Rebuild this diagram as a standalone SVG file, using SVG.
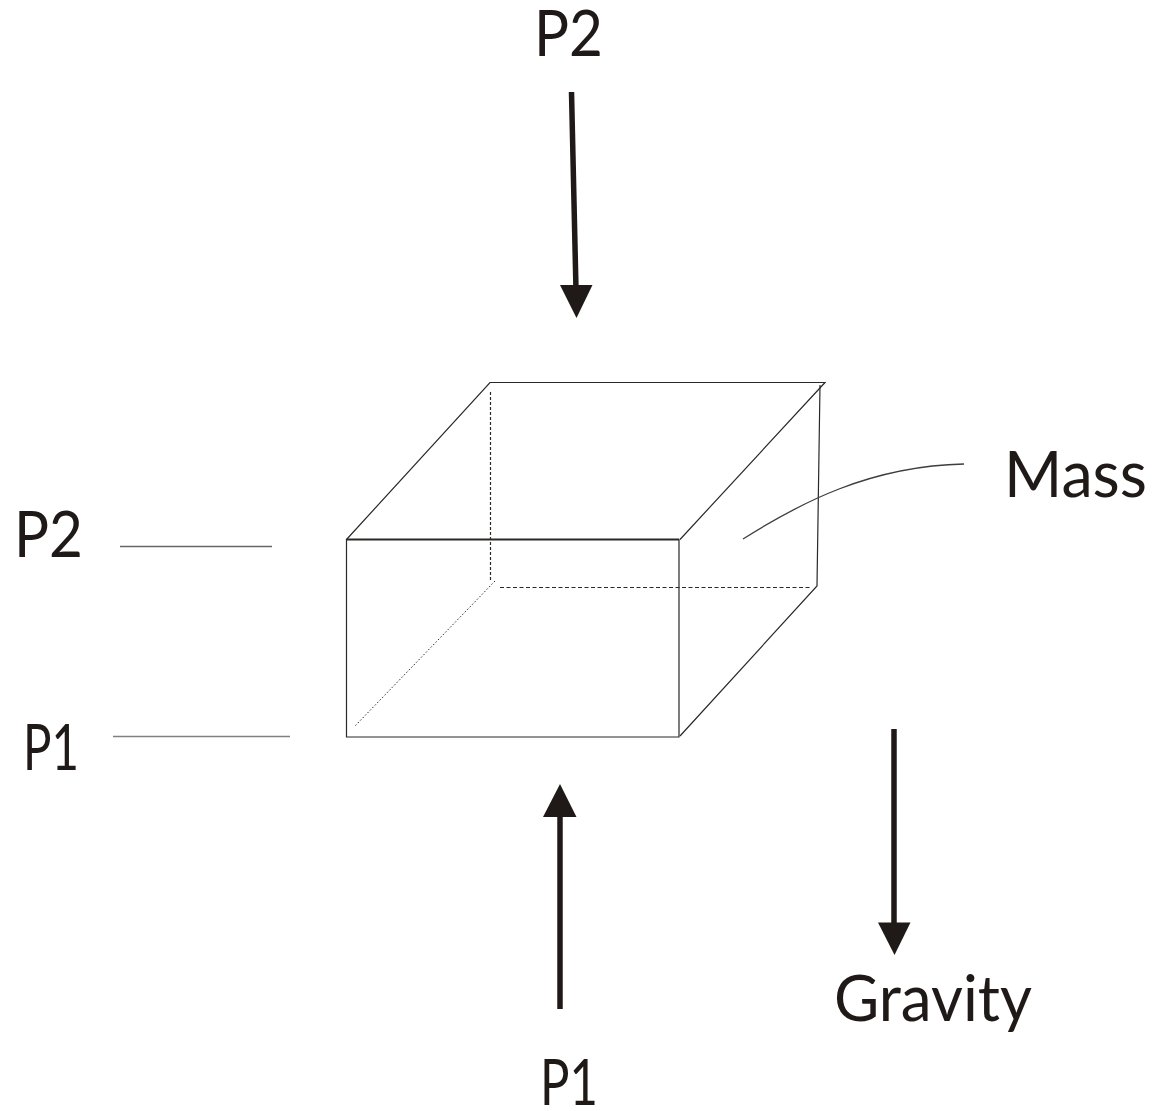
<svg xmlns="http://www.w3.org/2000/svg" width="1155" height="1111" viewBox="0 0 1155 1111">
<style>
.t{font-family:"Lato","Liberation Sans",sans-serif;font-weight:400;font-size:64px;fill:#1f1a17}
.e{fill:none;stroke:#2b2826;stroke-width:1.2}
.l{fill:none;stroke:#3f3c3a;stroke-width:1.3}
.a{fill:none;stroke:#1f1a17;stroke-width:5.5}
.h{fill:#1f1a17}
</style>
<rect width="1155" height="1111" fill="#fff"/>
<g id="box">
<path class="e" d="M346.500 539.500H679V737H346.500Z"/>
<path class="e" style="stroke-width:2" d="M346.500 539.500H679"/>
<path class="e" d="M346.500 539.500L490 382.500H825L680 539.500"/>
<path class="e" d="M820 385L817 586L680 736"/>
<path class="e" stroke-dasharray="3 2" d="M490.500 392V582"/>
<path class="e" stroke-dasharray="4 2.500" d="M500 587.500H812"/>
<path class="e" style="stroke-width:1" stroke-dasharray="1.500 2" d="M495 581L354 727"/>
</g>
<g id="connectors">
<path class="l" d="M743 539C800 503 870 466 964 464"/>
<path class="l" style="stroke:#666" d="M120 546.500H272"/>
<path class="l" style="stroke:#808080" d="M113 736.500H290"/>
<path class="a" d="M571.500 92L576 290"/>
<polygon class="h" points="560,285 592.500,285 576.500,318"/>
<path class="a" d="M560 1009V812"/>
<polygon class="h" points="543,817 576.500,817 560,784"/>
<path class="a" d="M894 729V925"/>
<polygon class="h" points="878,922.500 910.500,922.500 894.500,955"/>
</g>
<g id="labels">
<text class="t" x="534" y="56" textLength="69" lengthAdjust="spacingAndGlyphs">P2</text>
<text class="t" x="14" y="557" textLength="69" lengthAdjust="spacingAndGlyphs">P2</text>
<text class="t" x="23" y="770" textLength="56" lengthAdjust="spacingAndGlyphs">P1</text>
<text class="t" x="540" y="1105" textLength="58" lengthAdjust="spacingAndGlyphs">P1</text>
<text class="t" x="1004" y="497" textLength="143" lengthAdjust="spacingAndGlyphs">Mass</text>
<text class="t" x="834" y="1021" textLength="198" lengthAdjust="spacingAndGlyphs">Gravity</text>
</g>
</svg>
